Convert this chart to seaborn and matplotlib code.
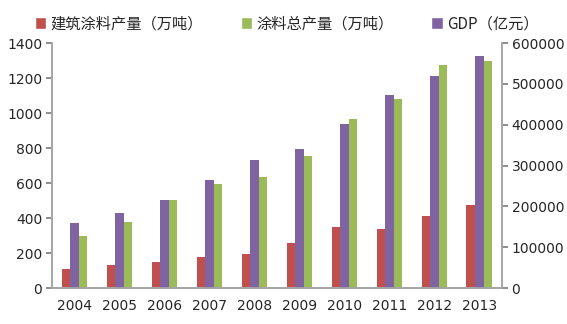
import matplotlib
matplotlib.use("Agg")
import matplotlib.pyplot as plt
import seaborn as sns
import pandas as pd
import numpy as np
from matplotlib.patches import Patch
from matplotlib.ticker import FixedLocator

years = ["2004", "2005", "2006", "2007", "2008", "2009", "2010", "2011", "2012", "2013"]
arch_coating = [110, 130, 150, 175, 195, 260, 350, 340, 410, 475]
total_coating = [295, 380, 505, 595, 635, 755, 965, 1080, 1275, 1300]
gdp = [159000, 184000, 216000, 265000, 314000, 341000, 401000, 473000, 519000, 568000]

s_arch = "建筑涂料产量（万吨）"
s_total = "涂料总产量（万吨）"
s_gdp = "GDP（亿元）"
colors = {s_arch: "#C0504D", s_gdp: "#8064A2", s_total: "#9BBB59"}
hue_order = [s_arch, s_gdp, s_total]

sns.set_theme(style="white")
plt.rcParams['font.family'] = ['Noto Sans CJK SC', 'DejaVu Sans']

left_df = pd.DataFrame({
    "year": years * 2,
    "series": [s_arch] * 10 + [s_total] * 10,
    "value": arch_coating + total_coating,
})
right_df = pd.DataFrame({"year": years, "series": [s_gdp] * 10, "value": gdp})

fig = plt.figure(figsize=(5.67, 3.24), dpi=100)
ax1 = fig.add_axes([0.0917, 0.111, 0.885 - 0.0917, 0.867 - 0.111])
ax2 = ax1.twinx()

sns.barplot(data=left_df, x="year", y="value", hue="series", hue_order=hue_order,
            order=years, palette=colors, width=0.57, dodge=True, ax=ax1, legend=False,
            saturation=1, linewidth=0)
sns.barplot(data=right_df, x="year", y="value", hue="series", hue_order=hue_order,
            order=years, palette=colors, width=0.57, dodge=True, ax=ax2, legend=False,
            saturation=1, linewidth=0)

for ax in (ax1, ax2):
    ax.set_xlim(-0.5, 9.5)
    ax.set_xlabel("")
    ax.set_ylabel("")
    for sp in ax.spines.values():
        sp.set_color("#A6A6A6")
    ax.spines["top"].set_visible(False)

ax1.set_ylim(0, 1400)
ax1.set_yticks(np.arange(0, 1401, 200))
ax2.set_ylim(0, 600000)
ax2.set_yticks(np.arange(0, 600001, 100000))

ax1.tick_params(axis="y", direction="out", length=4, color="#808080", labelsize=10, pad=3)
ax2.tick_params(axis="y", direction="out", length=4, color="#808080", labelsize=10, pad=3)
ax1.set_xticks(range(10))
ax1.set_xticklabels(years)
ax1.tick_params(axis="x", which="major", length=0, labelsize=10, pad=8)
ax1.xaxis.set_minor_locator(FixedLocator(np.arange(-0.5, 10, 1)))
ax1.tick_params(axis="x", which="minor", direction="out", length=4, color="#A6A6A6")
ax2.tick_params(axis="x", which="both", length=0)
for lab in ax1.get_yticklabels() + ax2.get_yticklabels() + ax1.get_xticklabels():
    lab.set_family("DejaVu Sans")

handles = [Patch(facecolor=colors[s_arch]), Patch(facecolor=colors[s_total]), Patch(facecolor=colors[s_gdp])]
fig.legend(handles, [s_arch, s_total, s_gdp], loc="upper left", bbox_to_anchor=(0.037, 0.995),
           ncol=3, frameon=False, fontsize=11, handlelength=0.75, handleheight=0.75,
           handletextpad=0.25, columnspacing=2.5)

fig.savefig("out.png", dpi=100, facecolor="white")
